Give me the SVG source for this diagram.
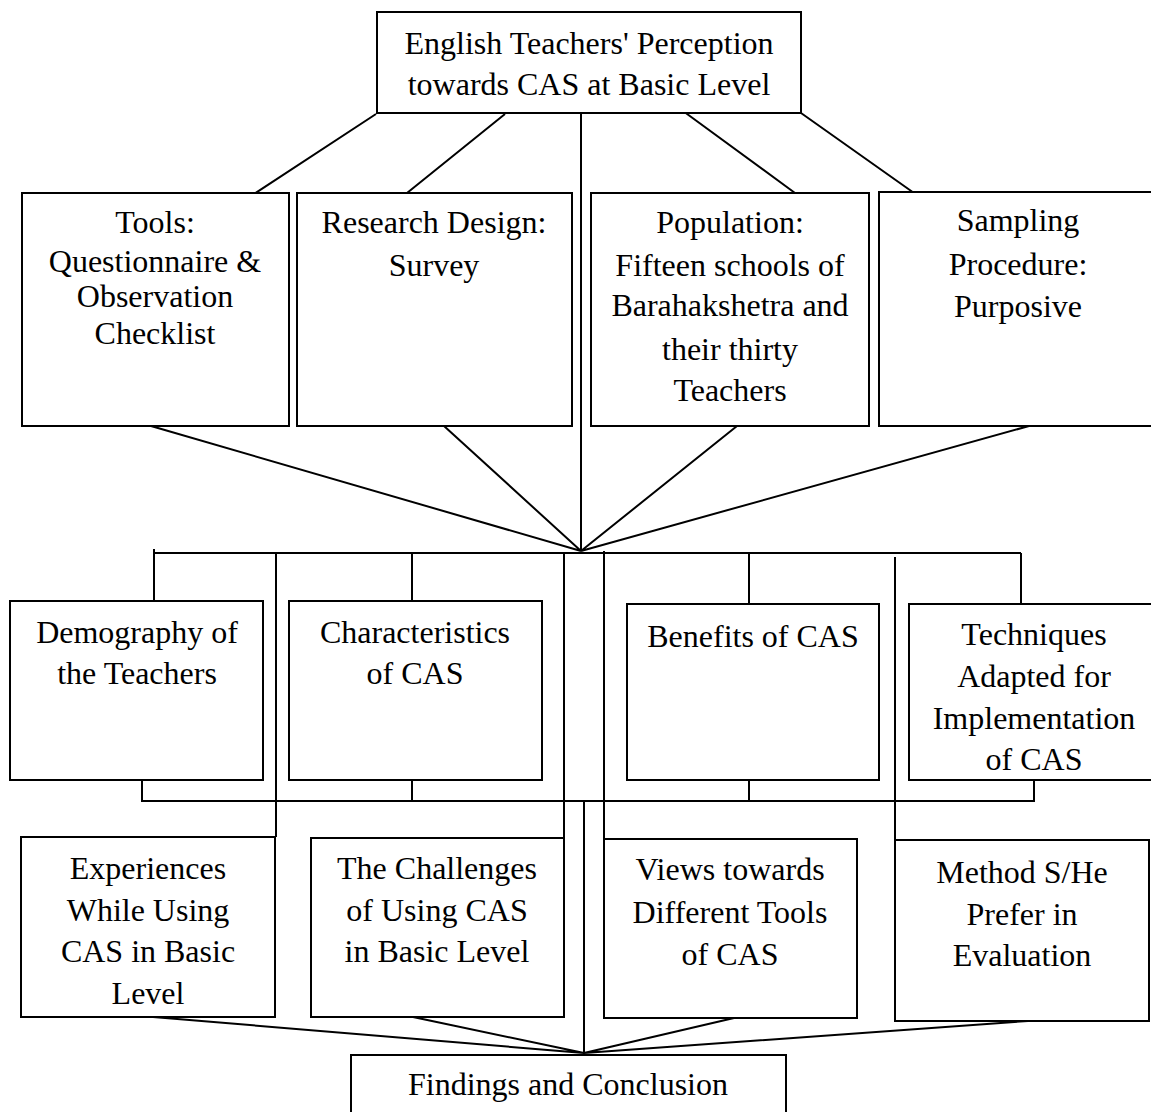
<svg xmlns="http://www.w3.org/2000/svg" width="1151" height="1112" viewBox="0 0 1151 1112">
<style>
.box{fill:#fff;stroke:#000;stroke-width:2}
.c{fill:none;stroke:#000;stroke-width:2}
text{font-family:"Liberation Serif","Times New Roman",serif;font-size:32px;fill:#000;text-anchor:middle}
</style>
<rect width="1151" height="1112" fill="#fff"/>
<g id="connectors">
<path class="c" d="M376,114 L251,196 M505,114 L407,193 M581,107 V551 M683,111 L795,193 M801,113 L914,193"/>
<path class="c" d="M151,426 L581,551 M444,426 L581,551 M737,426 L581,551 M1029,426 L581,551"/>
<path class="c" d="M154,553 H1021 M154,549 V601 M276,553 V837 M412,553 V601 M564,553 V1017 M604,551 V1018 M749,553 V604 M895,557 V840 M1021,553 V604"/>
<path class="c" d="M142,780 V801 H1034 V780 M412,780 V801 M749,780 V801 M584,801 V1054"/>
<path class="c" d="M153,1017 L584,1053 M413,1017 L584,1053 M734,1018 L584,1053 M1028,1021 L584,1053"/>
</g>
<g id="n-top"><rect class="box" x="377" y="12" width="424" height="101"/><text x="589" y="54">English Teachers' Perception</text><text x="589" y="95">towards CAS at Basic Level</text></g>
<g id="n-tools"><rect class="box" x="22" y="193" width="267" height="233"/><text x="155" y="233">Tools:</text><text x="155" y="272">Questionnaire &amp;</text><text x="155" y="307">Observation</text><text x="155" y="344">Checklist</text></g>
<g id="n-research"><rect class="box" x="297" y="193" width="275" height="233"/><text x="434" y="233">Research Design:</text><text x="434" y="276">Survey</text></g>
<g id="n-population"><rect class="box" x="591" y="193" width="278" height="233"/><text x="730" y="233">Population:</text><text x="730" y="276">Fifteen schools of</text><text x="730" y="316">Barahakshetra and</text><text x="730" y="360">their thirty</text><text x="730" y="401">Teachers</text></g>
<g id="n-sampling"><rect class="box" x="879" y="192" width="280" height="234"/><text x="1018" y="231">Sampling</text><text x="1018" y="275">Procedure:</text><text x="1018" y="317">Purposive</text></g>
<g id="n-demography"><rect class="box" x="10" y="601" width="253" height="179"/><text x="137" y="643">Demography of</text><text x="137" y="684">the Teachers</text></g>
<g id="n-characteristics"><rect class="box" x="289" y="601" width="253" height="179"/><text x="415" y="643">Characteristics</text><text x="415" y="684">of CAS</text></g>
<g id="n-benefits"><rect class="box" x="627" y="604" width="252" height="176"/><text x="753" y="647">Benefits of CAS</text></g>
<g id="n-techniques"><rect class="box" x="909" y="604" width="250" height="176"/><text x="1034" y="645">Techniques</text><text x="1034" y="687">Adapted for</text><text x="1034" y="729">Implementation</text><text x="1034" y="770">of CAS</text></g>
<g id="n-experiences"><rect class="box" x="21" y="837" width="254" height="180"/><text x="148" y="879">Experiences</text><text x="148" y="921">While Using</text><text x="148" y="962">CAS in Basic</text><text x="148" y="1004">Level</text></g>
<g id="n-challenges"><rect class="box" x="311" y="838" width="253" height="179"/><text x="437" y="879">The Challenges</text><text x="437" y="921">of Using CAS</text><text x="437" y="962">in Basic Level</text></g>
<g id="n-views"><rect class="box" x="604" y="839" width="253" height="179"/><text x="730" y="880">Views towards</text><text x="730" y="923">Different Tools</text><text x="730" y="965">of CAS</text></g>
<g id="n-method"><rect class="box" x="895" y="840" width="254" height="181"/><text x="1022" y="883">Method S/He</text><text x="1022" y="925">Prefer in</text><text x="1022" y="966">Evaluation</text></g>
<g id="n-findings"><rect class="box" x="351" y="1055" width="435" height="70"/><text x="568" y="1095">Findings and Conclusion</text></g>
</svg>
